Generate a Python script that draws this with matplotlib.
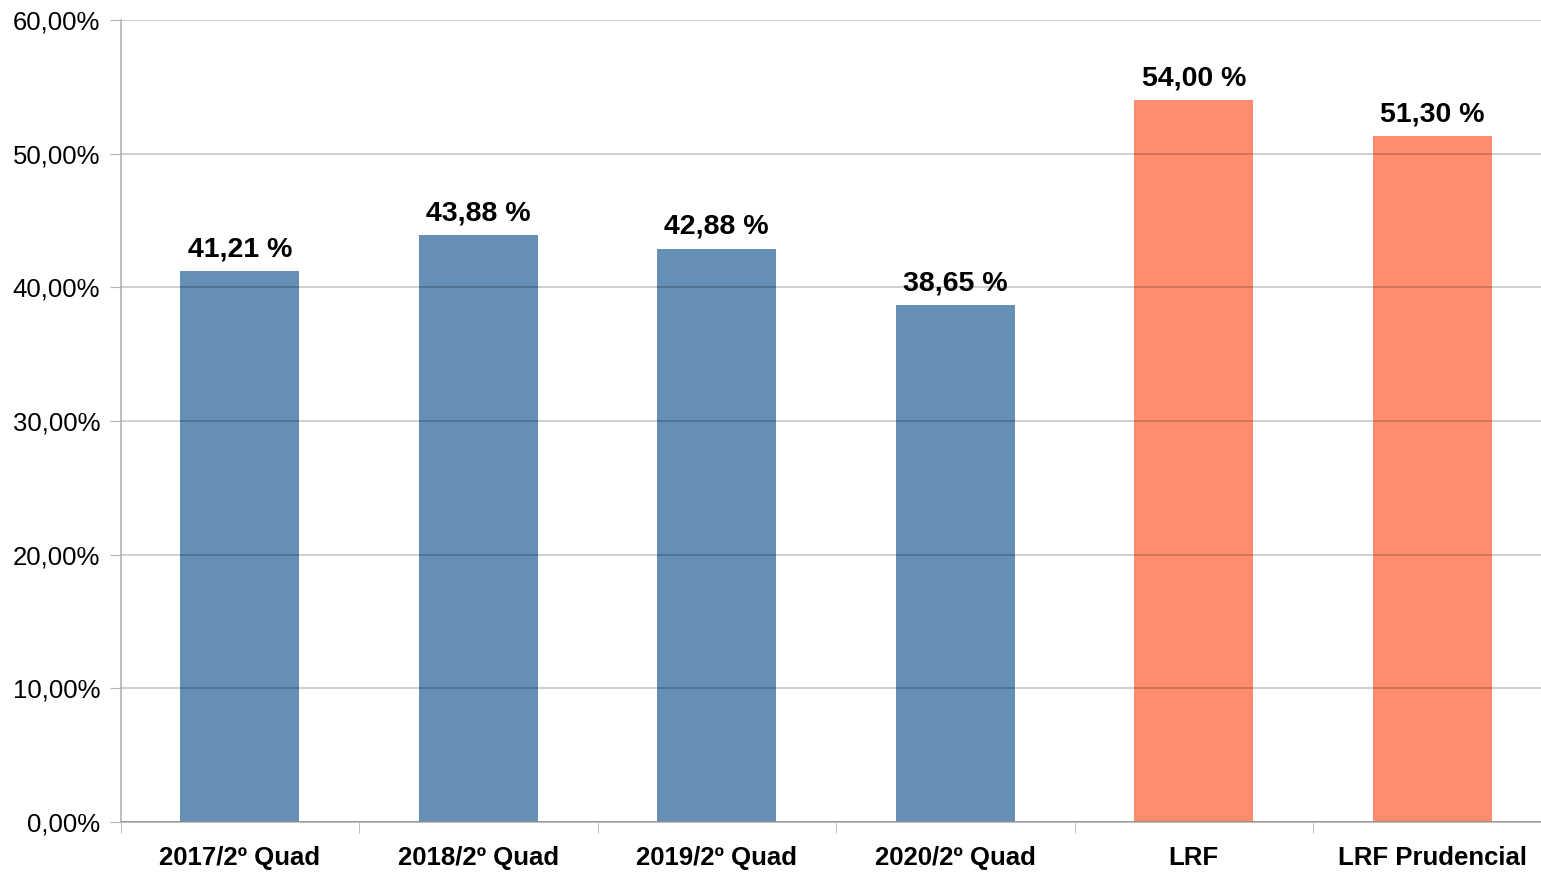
import matplotlib
matplotlib.use("Agg")
import matplotlib.pyplot as plt
from matplotlib.ticker import FixedLocator, FuncFormatter

plt.rcParams['font.family'] = ['Liberation Sans', 'DejaVu Sans']

categories = ["2017/2º Quad", "2018/2º Quad", "2019/2º Quad", "2020/2º Quad", "LRF", "LRF Prudencial"]
values = [41.21, 43.88, 42.88, 38.65, 54.00, 51.30]
colors = ["#658fb5", "#658fb5", "#658fb5", "#658fb5", "#ff8c6c", "#ff8c6c"]
y_ticks = [0, 10, 20, 30, 40, 50, 60]

fig = plt.figure(figsize=(15.41, 8.73), dpi=100)
ax = fig.add_axes([120.5/1541, 51/873, 1431/1541, 802/873])

x = list(range(len(categories)))
ax.bar(x, values, width=0.5, color=colors, zorder=2)

for xi, v in zip(x, values):
    ax.annotate(f"{v:.2f} %".replace('.', ','), (xi, v), xytext=(0, 6.5),
                textcoords='offset points', ha='center', va='bottom',
                fontsize=20.5, fontweight='bold', color='black')

ax.set_xlim(-0.5, 5.5)
ax.set_ylim(0, 60)
ax.set_yticks(y_ticks)
ax.yaxis.set_major_formatter(FuncFormatter(lambda v, p: f"{v:.2f}%".replace('.', ',')))
ax.tick_params(axis='y', labelsize=18.5, length=8, color='#b3b3b3', pad=6.5)

ax.set_xticks(x)
ax.set_xticklabels(categories, fontsize=18.5, fontweight='bold')
ax.tick_params(axis='x', which='major', length=0, pad=17)
ax.xaxis.set_minor_locator(FixedLocator([-0.5, 0.5, 1.5, 2.5, 3.5, 4.5]))
ax.tick_params(axis='x', which='minor', length=8, color='#b3b3b3')

ax.yaxis.grid(True, color='black', alpha=0.22, linewidth=1.2, zorder=3)
ax.set_axisbelow(False)
for s in ['top', 'right']:
    ax.spines[s].set_visible(False)
for s in ['left', 'bottom']:
    ax.spines[s].set_color('#b3b3b3')
    ax.spines[s].set_linewidth(1.2)

fig.savefig("out.png", dpi=100)
